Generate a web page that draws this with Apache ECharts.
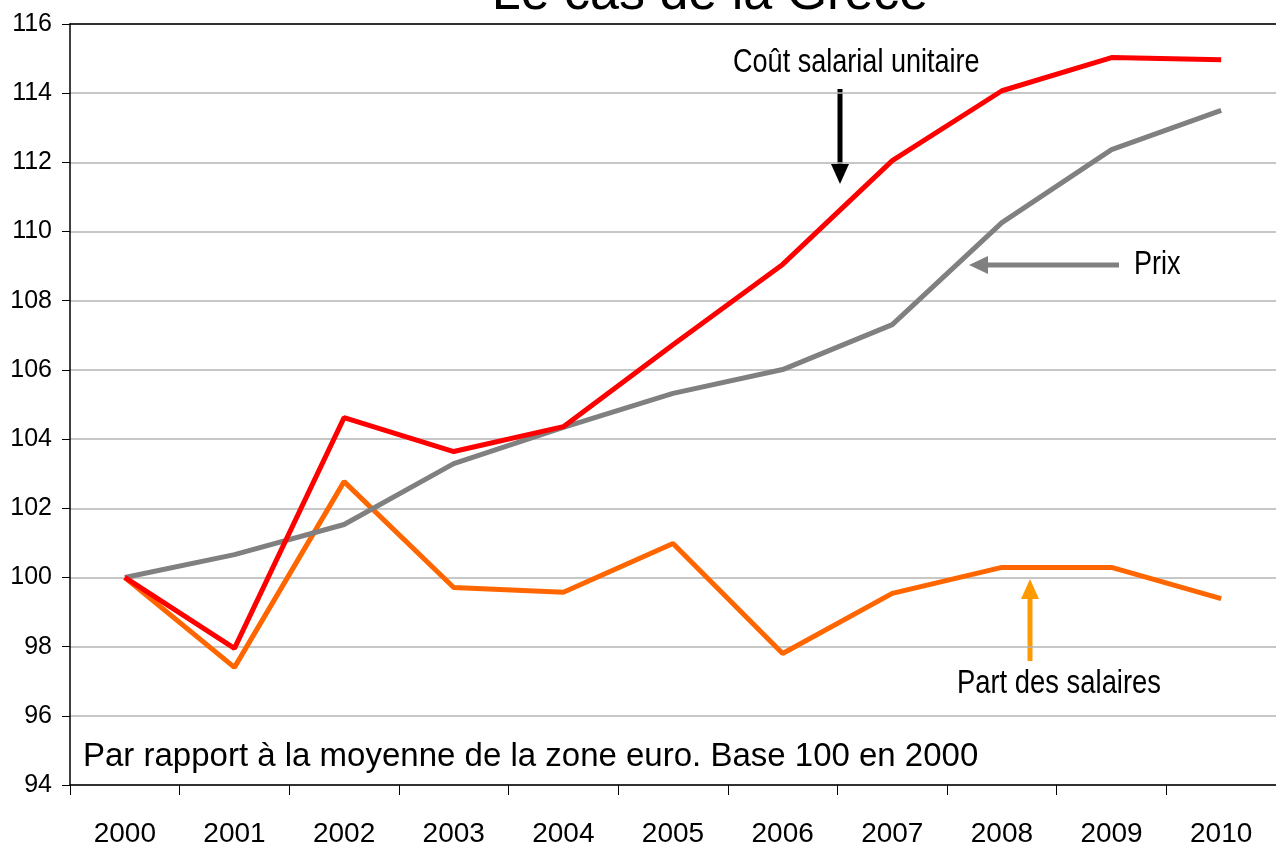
<!DOCTYPE html>
<html>
<head>
<meta charset="utf-8">
<script src="https://cdn.jsdelivr.net/npm/echarts@6/dist/echarts.min.js"></script>
<style>
  html, body { margin: 0; padding: 0; background: #fff; }
  #chart { width: 1276px; height: 852px; }
</style>
</head>
<body>
<div id="chart"></div>
<script>
const years = ['2000', '2001', '2002', '2003', '2004', '2005', '2006', '2007', '2008', '2009', '2010'];
const coutSalarial = [100, 97.95, 104.62, 103.64, 104.36, 106.73, 109.05, 112.05, 114.07, 115.03, 114.97];
const prix = [100, 100.66, 101.53, 103.29, 104.34, 105.32, 106.01, 107.31, 110.26, 112.37, 113.5];
const partSalaires = [100, 97.4, 102.77, 99.71, 99.57, 100.98, 97.8, 99.54, 100.29, 100.29, 99.39];

const sans = '"Liberation Sans", Arial, sans-serif';

const chart = echarts.init(document.getElementById('chart'));

function lineSeries(name, data, color) {
  return {
    name: name,
    type: 'line',
    data: data,
    symbol: 'none',
    lineStyle: { color: color, width: 5 },
    animation: false
  };
}

// condensed-looking annotation text (no narrow font installed, so squeeze it)
function note(text, x, y, size, squeeze) {
  return {
    type: 'text', x: x, y: y, scaleX: squeeze, z: 10,
    style: { text: text, fontFamily: sans, fontSize: size, fill: '#000', verticalAlign: 'middle' }
  };
}

chart.setOption({
  animation: false,
  title: {
    text: 'Le cas de la Grèce',
    left: 705,
    textAlign: 'center',
    top: -36,
    textStyle: { fontFamily: sans, fontSize: 52, fontWeight: 'normal', color: '#000' }
  },
  grid: { left: 70, right: -6, top: 24, bottom: 67 },
  xAxis: [
    {
      type: 'category',
      data: years,
      boundaryGap: true,
      axisLine: { lineStyle: { color: '#000', width: 1.5 } },
      axisTick: { show: true, length: 10, lineStyle: { color: '#000' } },
      axisLabel: { color: '#000', fontFamily: sans, fontSize: 28, margin: 35 }
    },
    {
      type: 'category',
      data: years,
      position: 'top',
      axisLine: { show: true, lineStyle: { color: '#000', width: 1.5 } },
      axisTick: { show: false },
      axisLabel: { show: false }
    }
  ],
  yAxis: {
    type: 'value',
    min: 94,
    max: 116,
    interval: 2,
    axisLine: { show: true, lineStyle: { color: '#000', width: 1.5 } },
    axisTick: { show: true, length: 8, lineStyle: { color: '#000' } },
    axisLabel: { color: '#000', fontFamily: sans, fontSize: 25, margin: 18 },
    splitLine: { lineStyle: { color: '#b4b4b4', width: 1.5 } }
  },
  series: [
    lineSeries('Part des salaires', partSalaires, '#ff6600'),
    lineSeries('Prix', prix, '#808080'),
    lineSeries('Coût salarial unitaire', coutSalarial, '#ff0000')
  ],
  graphic: [
    note('Coût salarial unitaire', 733, 63, 33, 0.82),
    { type: 'line', shape: { x1: 840, y1: 89, x2: 840, y2: 166 }, style: { stroke: '#000', lineWidth: 5 } },
    { type: 'polygon', shape: { points: [[831, 164], [849, 164], [840, 184]] }, style: { fill: '#000' } },
    note('Prix', 1134, 265, 33, 0.82),
    { type: 'line', shape: { x1: 986, y1: 265, x2: 1119, y2: 265 }, style: { stroke: '#808080', lineWidth: 5 } },
    { type: 'polygon', shape: { points: [[988, 256], [988, 274], [969, 265]] }, style: { fill: '#808080' } },
    note('Part des salaires', 957, 684, 33, 0.83),
    { type: 'line', shape: { x1: 1030, y1: 661, x2: 1030, y2: 597 }, style: { stroke: '#ff9900', lineWidth: 5 } },
    { type: 'polygon', shape: { points: [[1021, 599], [1039, 599], [1030, 579]] }, style: { fill: '#ff9900' } },
    note('Par rapport à la moyenne de la zone euro. Base 100 en 2000', 83, 757, 33, 1)
  ]
});
</script>
</body>
</html>
